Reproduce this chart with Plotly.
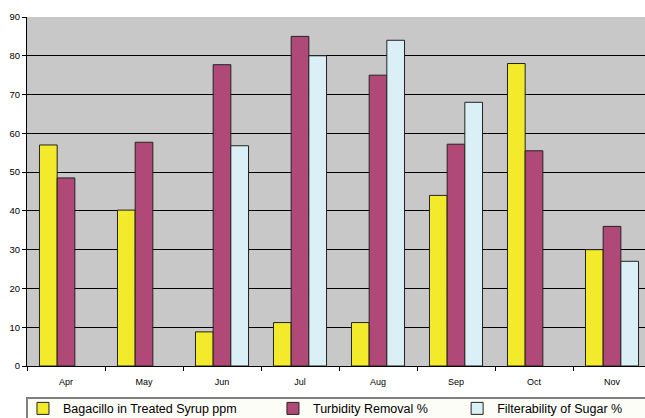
import plotly.graph_objects as go

months = ["Apr", "May", "Jun", "Jul", "Aug", "Sep", "Oct", "Nov"]
bagacillo = [57, 40.2, 8.8, 11.2, 11.2, 44, 78, 30]
turbidity = [48.5, 57.7, 77.7, 85, 75, 57.2, 55.5, 36]
filterability = [None, None, 56.8, 80, 84, 68, None, 27]

series = [
    ("Bagacillo in Treated Syrup ppm", bagacillo, "#F3EA2B", "legend"),
    ("Turbidity Removal %", turbidity, "#B04878", "legend2"),
    ("Filterability of Sugar %", filterability, "#DAF0F6", "legend3"),
]

FONT = "Liberation Sans, Arial, sans-serif"

fig = go.Figure()
for name, vals, color, leg in series:
    fig.add_trace(go.Bar(
        name=name, x=months, y=vals, legend=leg,
        marker=dict(color=color, line=dict(color="#222222", width=1)),
    ))

# Legend frame running off the lower-right edge
fig.add_shape(
    type="rect", xref="paper", yref="paper",
    x0=0, x1=1.05, y0=-0.0917, y1=-0.3,
    fillcolor="#FDFDF8", line=dict(color="#808080", width=2), layer="below",
)


def legend_at(x):
    return dict(
        orientation="h", x=x, xref="paper", y=0.058, yref="container",
        xanchor="left", yanchor="top",
        font=dict(size=12.5, family=FONT, color="black"),
        bgcolor="rgba(0,0,0,0)", itemwidth=30,
    )


fig.update_layout(
    width=645, height=418,
    margin=dict(l=27, r=0, t=17, b=52, autoexpand=False),
    paper_bgcolor="white",
    plot_bgcolor="#C8C8C8",
    barmode="group",
    bargap=0.32,
    bargroupgap=0,
    font=dict(family=FONT, color="black"),
    showlegend=True,
    legend=legend_at(-0.0065),
    legend2=legend_at(0.398),
    legend3=legend_at(0.696),
    xaxis=dict(
        range=[-0.5, 7.423],
        showline=True, linecolor="black", linewidth=1,
        ticks="outside", tickson="boundaries", ticklen=4, tickcolor="black",
        tickfont=dict(size=9, family=FONT), ticklabelstandoff=7,
        showgrid=False,
    ),
    yaxis=dict(
        range=[0, 90], dtick=10,
        showline=True, linecolor="black", linewidth=1,
        ticks="outside", ticklen=4, tickcolor="black",
        tickfont=dict(size=9.5, family=FONT),
        showgrid=True, gridcolor="black", gridwidth=1,
        zeroline=False,
    ),
)

fig.write_html("out.html")
